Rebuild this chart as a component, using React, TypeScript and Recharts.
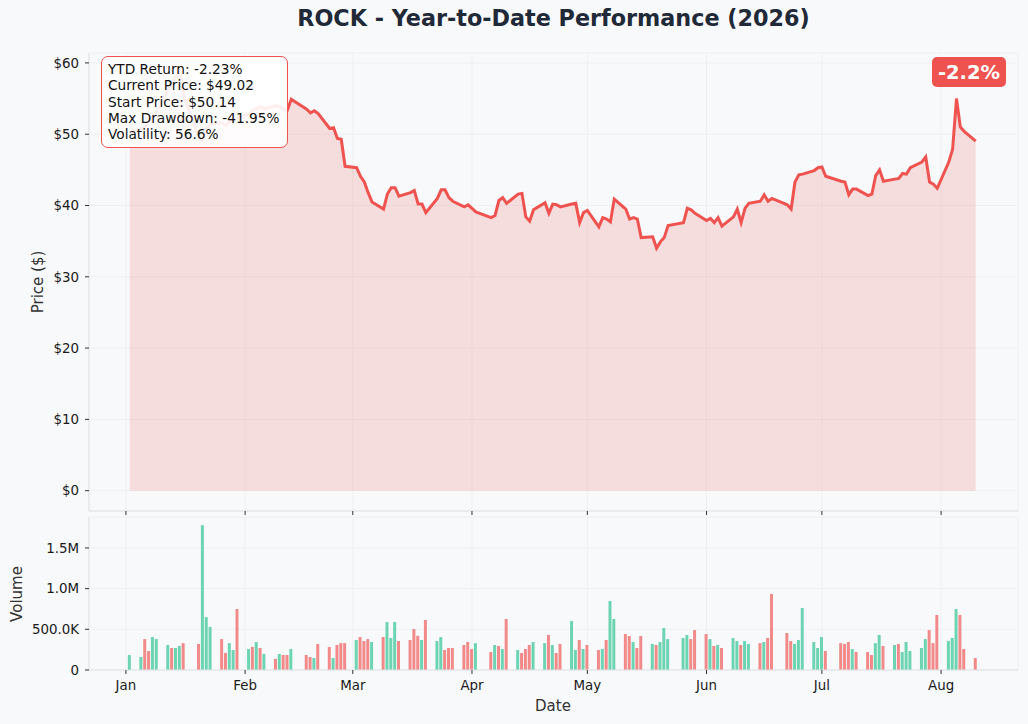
import {
  ComposedChart,
  Area,
  Bar,
  Cell,
  XAxis,
  YAxis,
  CartesianGrid,
} from "recharts";

// NYSE trading days, 2026 (MM-DD)
const dates = [
  "01-02", "01-05", "01-06", "01-07", "01-08", "01-09", "01-12", "01-13", "01-14", "01-15",
  "01-16", "01-20", "01-21", "01-22", "01-23", "01-26", "01-27", "01-28", "01-29", "01-30",
  "02-02", "02-03", "02-04", "02-05", "02-06", "02-09", "02-10", "02-11", "02-12", "02-13",
  "02-17", "02-18", "02-19", "02-20", "02-23", "02-24", "02-25", "02-26", "02-27",
  "03-02", "03-03", "03-04", "03-05", "03-06", "03-09", "03-10", "03-11", "03-12", "03-13",
  "03-16", "03-17", "03-18", "03-19", "03-20", "03-23", "03-24", "03-25", "03-26", "03-27",
  "03-30", "03-31",
  "04-01", "04-02", "04-06", "04-07", "04-08", "04-09", "04-10", "04-13", "04-14", "04-15",
  "04-16", "04-17", "04-20", "04-21", "04-22", "04-23", "04-24", "04-27", "04-28", "04-29",
  "04-30",
  "05-01", "05-04", "05-05", "05-06", "05-07", "05-08", "05-11", "05-12", "05-13", "05-14",
  "05-15", "05-18", "05-19", "05-20", "05-21", "05-22", "05-26", "05-27", "05-28", "05-29",
  "06-01", "06-02", "06-03", "06-04", "06-05", "06-08", "06-09", "06-10", "06-11", "06-12",
  "06-15", "06-16", "06-17", "06-18", "06-22", "06-23", "06-24", "06-25", "06-26", "06-29",
  "06-30",
  "07-01", "07-02", "07-06", "07-07", "07-08", "07-09", "07-10", "07-13", "07-14", "07-15",
  "07-16", "07-17", "07-20", "07-21", "07-22", "07-23", "07-24", "07-27", "07-28", "07-29",
  "07-30", "07-31",
  "08-03", "08-04", "08-05", "08-06", "08-07", "08-10",
];

// closing price ($)
const prices = [
  50.14, 50.8, 51.0, 51.8, 52.5, 53.2, 56.3, 57.2, 58.0, 58.6, 55.5, 49.5, 49.1, 50.7, 51.4, 51.6, 51.2, 51.8, 52.0, 52.3,
  52.8, 53.4, 53.6, 53.9, 53.6, 54.0, 53.9, 53.5, 53.4, 54.9, 53.5, 53.0, 53.3, 52.9, 50.8, 50.9, 49.4, 49.3, 45.5,
  45.3, 44.1, 43.3, 41.8, 40.5, 39.5, 41.6, 42.5, 42.5, 41.3, 41.8, 42.1, 40.2, 40.2, 39.0, 41.0, 42.2, 42.2, 41.1, 40.6, 39.8, 40.1,
  39.6, 39.1, 38.3, 38.6, 40.7, 41.1, 40.3, 41.6, 41.7, 38.4, 37.8, 39.4, 40.4, 38.9, 40.2, 40.1, 39.8, 40.2, 40.3, 37.6, 39.0,
  39.3, 37.0, 38.3, 38.1, 37.7, 40.9, 39.5, 38.1, 38.3, 38.1, 35.5, 35.6, 34.0, 34.9, 35.5, 37.2, 37.6, 39.6, 39.4, 38.9,
  37.9, 38.2, 37.6, 38.3, 37.1, 38.4, 39.5, 37.6, 39.6, 40.3, 40.6, 41.5, 40.6, 41.0, 40.1, 39.5, 43.3, 44.3, 44.4, 44.9, 45.3,
  45.4, 44.1, 43.4, 43.3, 41.5, 42.3, 42.3, 41.4, 41.6, 44.2, 45.0, 43.4, 43.7, 43.8, 44.5, 44.4, 45.3, 46.1, 46.8, 43.3, 43.0, 42.4,
  46.1, 47.9, 55.0, 51.0, 50.4, 49.02,
];

// volume (thousands of shares)
const volumes = [
  184, 160, 380, 233, 405, 380, 307, 270, 270, 295, 330, 320, 1780, 650, 530, 380, 210, 330, 245, 750,
  258, 283, 344, 270, 197, 135, 197, 184, 184, 258, 184, 160, 147, 320, 283, 147, 307, 330, 330,
  369, 405, 356, 380, 344, 405, 590, 393, 590, 356, 369, 504, 420, 369, 614, 356, 405, 246, 270, 270, 307, 344,
  258, 330, 221, 307, 295, 258, 627, 246, 209, 258, 307, 344, 330, 430, 307, 209, 320, 602, 246, 369, 258,
  307, 246, 258, 369, 848, 627, 442, 418, 344, 270, 418, 320, 307, 344, 516, 380, 393, 430, 380, 491,
  442, 380, 295, 307, 270, 393, 356, 307, 356, 320, 330, 344, 393, 934, 455, 356, 320, 369, 762, 344, 270,
  405, 233, 330, 320, 344, 258, 221, 221, 184, 330, 430, 295, 307, 320, 221, 344, 233, 270, 380, 491, 330, 676,
  356, 393, 750, 676, 258, 147,
];

// up (G) / down (R) day, as coloured in the volume panel
const directions =
  "GGRRGGGRGGRRGGGRRGGR" +
  "GRGRGRGRRGRRGRRGRRR" +
  "GRRRGRGGGRRRRGRGGRRRRR" +
  "RGRGRGRGRRRGGRGRRGGRG" +
  "RRGRGGRRGRRGRGGGGGRR" +
  "RGRGRGGRGGRGRRRRGGGGG" +
  "GRRRRGRRRGGRGRGGGGGRRR" +
  "GGGRRR";

const monthTicks = [0, 31, 59, 90, 120, 151, 181, 212];
const monthLabels = ["Jan", "Feb", "Mar", "Apr", "May", "Jun", "Jul", "Aug"];
const priceTicks = [0, 10, 20, 30, 40, 50, 60];
const volumeTicks = [0, 500000, 1000000, 1500000];

const stats = [
  "YTD Return: -2.23%",
  "Current Price: $49.02",
  "Start Price: $50.14",
  "Max Drawdown: -41.95%",
  "Volatility: 56.6%",
];

const dayOfYear = (md: string) => {
  const [m, d] = md.split("-").map(Number);
  return (Date.UTC(2026, m - 1, d) - Date.UTC(2026, 0, 1)) / 86400000;
};

const rows = dates.map((d, i) => ({
  day: dayOfYear(d),
  price: prices[i],
  volume: volumes[i] * 1000,
  up: directions[i] === "G",
}));

const FONT = "'DejaVu Sans', Verdana, sans-serif";
const BG = "#f8f9fb";
const RED = "#ef5350";
const X_DOMAIN: [number, number] = [-9.6, 232];
const tickStyle = { fontSize: 13.4, fill: "#1a1a1a", fontFamily: FONT };

const fmtVolume = (v: number) => {
  if (v === 0) return "0";
  if (v >= 1000000) return (v / 1000000).toFixed(1) + "M";
  return (v / 1000).toFixed(1) + "K";
};

const axisLabel = {
  position: "absolute" as const,
  whiteSpace: "nowrap" as const,
  fontSize: 15,
  color: "#333",
};

const App = () => {
  return (
    <div
      style={{
        position: "absolute",
        left: 0,
        top: 0,
        width: 1028,
        height: 724,
        background: BG,
        fontFamily: FONT,
        overflow: "hidden",
      }}
    >
      <div
        style={{
          position: "absolute",
          left: 89,
          width: 929,
          top: 5,
          textAlign: "center",
          fontSize: 22.3,
          fontWeight: "bold",
          color: "#1f2937",
        }}
      >
        ROCK - Year-to-Date Performance (2026)
      </div>

      <div style={{ position: "absolute", left: 0, top: 0 }}>
        <ComposedChart
          width={1028}
          height={520}
          data={rows}
          margin={{ top: 53, right: 10, bottom: 0, left: 0 }}
        >
          <CartesianGrid stroke="#eef0f3" strokeWidth={1} />
          <XAxis
            dataKey="day"
            type="number"
            domain={X_DOMAIN}
            ticks={monthTicks}
            allowDataOverflow
            height={9}
            tickFormatter={() => ""}
            axisLine={{ stroke: "#dfe2e6" }}
            tickLine={{ stroke: "#333" }}
            tickSize={4}
          />
          <YAxis
            type="number"
            domain={[-2.85, 61.39]}
            ticks={priceTicks}
            allowDataOverflow
            width={89}
            tick={tickStyle}
            tickFormatter={(v) => "$" + v}
            axisLine={{ stroke: "#dfe2e6" }}
            tickLine={{ stroke: "#333" }}
            tickSize={4}
            tickMargin={6}
          />
          <Area
            type="linear"
            dataKey="price"
            baseValue={0}
            stroke={RED}
            strokeWidth={3}
            fill={RED}
            fillOpacity={0.17}
            dot={false}
            activeDot={false}
            isAnimationActive={false}
          />
        </ComposedChart>
      </div>

      <div style={{ position: "absolute", left: 0, top: 510 }}>
        <ComposedChart
          width={1028}
          height={214}
          data={rows}
          margin={{ top: 7, right: 10, bottom: 0, left: 0 }}
        >
          <CartesianGrid stroke="#eef0f3" strokeWidth={1} />
          <XAxis
            dataKey="day"
            type="number"
            domain={X_DOMAIN}
            ticks={monthTicks}
            allowDataOverflow
            height={54}
            tick={tickStyle}
            tickFormatter={(v) => monthLabels[monthTicks.indexOf(v)] ?? ""}
            axisLine={{ stroke: "#dfe2e6" }}
            tickLine={{ stroke: "#333" }}
            tickSize={4}
            tickMargin={6}
          />
          <YAxis
            type="number"
            domain={[0, 1880000]}
            ticks={volumeTicks}
            allowDataOverflow
            width={89}
            tick={tickStyle}
            tickFormatter={fmtVolume}
            axisLine={{ stroke: "#dfe2e6" }}
            tickLine={{ stroke: "#333" }}
            tickSize={4}
            tickMargin={6}
          />
          <Bar dataKey="volume" barSize={3} isAnimationActive={false}>
            {rows.map((r, i) => (
              <Cell key={i} fill={r.up ? "#6dd4b1" : "#f28a8a"} />
            ))}
          </Bar>
        </ComposedChart>
      </div>

      <div
        style={{
          ...axisLabel,
          left: 38,
          top: 282,
          transform: "translate(-50%, -50%) rotate(-90deg)",
        }}
      >
        Price ($)
      </div>
      <div
        style={{
          ...axisLabel,
          left: 17,
          top: 594,
          transform: "translate(-50%, -50%) rotate(-90deg)",
        }}
      >
        Volume
      </div>
      <div
        style={{
          ...axisLabel,
          left: 553,
          top: 706,
          transform: "translate(-50%, -50%)",
        }}
      >
        Date
      </div>

      <div
        style={{
          position: "absolute",
          left: 101,
          top: 56,
          width: 187,
          height: 92,
          boxSizing: "border-box",
          padding: "4px 0 0 6px",
          background: "rgba(255,255,255,0.9)",
          border: `1.6px solid ${RED}`,
          borderRadius: 7,
          fontSize: 13.7,
          lineHeight: "16.3px",
          color: "#111",
          whiteSpace: "nowrap",
        }}
      >
        {stats.map((s) => (
          <div key={s}>{s}</div>
        ))}
      </div>

      <div
        style={{
          position: "absolute",
          left: 932,
          top: 57,
          width: 74,
          height: 30,
          background: RED,
          borderRadius: 5,
          color: "#fff",
          fontSize: 19.5,
          fontWeight: "bold",
          display: "flex",
          alignItems: "center",
          justifyContent: "center",
        }}
      >
        -2.2%
      </div>
    </div>
  );
};

export default App;
